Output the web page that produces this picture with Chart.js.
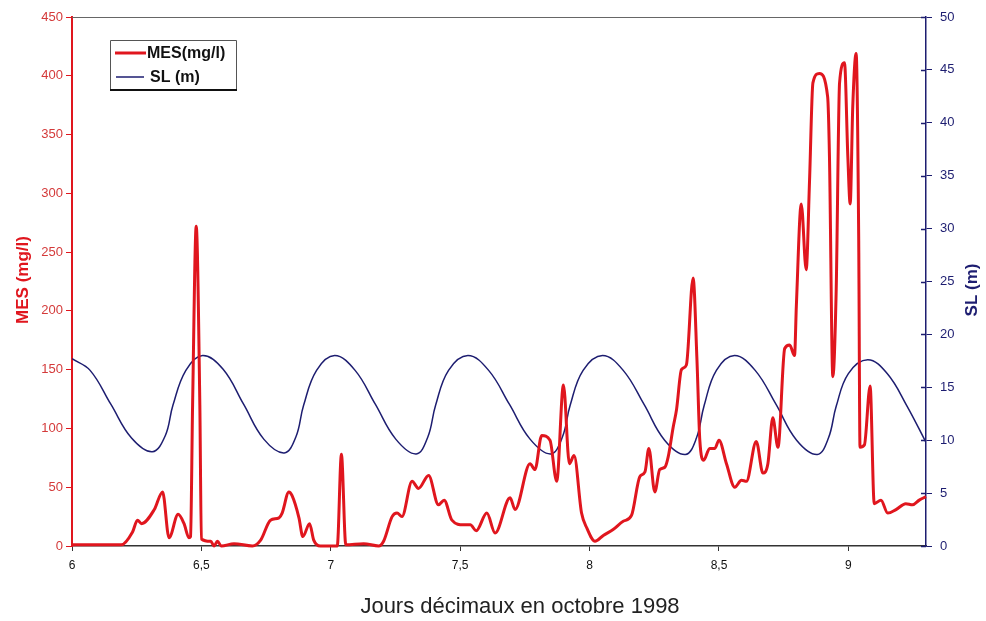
<!DOCTYPE html>
<html lang="fr">
<head>
    <meta charset="UTF-8">
    <title>MES et SL - octobre 1998</title>
    <script src="https://cdn.jsdelivr.net/npm/chart.js"></script>
    <style>
    body {
        margin: 0;
        padding: 0;
        background: #fff;
    }
    .wrap {
        width: 986px;
        height: 621px;
        position: relative;
    }
    </style>
</head>
<body>
    <div class="wrap">
        <canvas id="mes-chart"></canvas>
    </div>

    <script>
        // MES (mg/l), left axis
        const mesDays = [6.00, 6.10, 6.19, 6.234, 6.253, 6.269, 6.318, 6.35, 6.375, 6.41, 6.433, 6.452,
            6.458, 6.466, 6.48, 6.494, 6.50, 6.536, 6.549, 6.562, 6.577, 6.626, 6.697, 6.729, 6.767,
            6.80, 6.812, 6.838, 6.85, 6.877, 6.892, 6.918, 6.934, 6.96, 7.025, 7.041, 7.058, 7.127,
            7.185, 7.204, 7.237, 7.256, 7.275, 7.314, 7.339, 7.378, 7.416, 7.438, 7.468, 7.513, 7.539,
            7.562, 7.603, 7.635, 7.693, 7.712, 7.77, 7.789, 7.815, 7.847, 7.873, 7.899, 7.922, 7.94,
            7.969, 7.99, 8.021, 8.053, 8.091, 8.13, 8.162, 8.194, 8.214, 8.229, 8.252, 8.271, 8.291,
            8.304, 8.323, 8.336, 8.355, 8.374, 8.40, 8.415, 8.426, 8.441, 8.464, 8.484, 8.50, 8.529,
            8.561, 8.587, 8.606, 8.644, 8.67, 8.689, 8.708, 8.728, 8.754, 8.773, 8.792, 8.799, 8.818,
            8.837, 8.85, 8.863, 8.888, 8.92, 8.927, 8.94, 8.953, 8.966, 8.985, 8.998, 9.007, 9.017,
            9.03, 9.04, 9.045, 9.062, 9.084, 9.10, 9.126, 9.152, 9.184, 9.222, 9.248, 9.274, 9.30];
        const mesValues = [1, 1, 1, 12, 22, 19, 31, 46, 7, 27, 19, 7,
            8, 120, 272, 120, 6, 4, 0, 4, 0, 2, 0, 5, 22,
            24, 28, 46, 43, 24, 8, 19, 5, 0, 0, 78, 1, 2,
            0, 4, 25, 28, 25, 55, 49, 60, 35, 39, 22, 18, 18,
            13, 28, 11, 41, 31, 70, 65, 94, 90, 55, 137, 70, 77,
            28, 15, 4, 9, 14, 21, 26, 59, 63, 83, 46, 65, 67,
            76, 101, 116, 150, 154, 228, 158, 90, 73, 83, 83, 90, 70,
            50, 56, 55, 89, 62, 70, 109, 84, 168, 171, 162, 204, 291,
            235, 311, 394, 402, 382, 331, 144, 218, 394, 411, 331, 291, 374,
            419, 260, 84, 86, 136, 36, 39, 28, 31, 36, 35, 39, 42];

        // SL (m), right axis
        const slDays = [6.00, 6.07, 6.15, 6.23, 6.31, 6.36, 6.39, 6.44, 6.505,
            6.584, 6.663, 6.741, 6.82, 6.865, 6.895, 6.945, 7.015,
            7.094, 7.172, 7.251, 7.33, 7.375, 7.405, 7.455, 7.53,
            7.61, 7.69, 7.77, 7.85, 7.895, 7.925, 7.975, 8.05,
            8.13, 8.21, 8.29, 8.37, 8.413, 8.443, 8.49, 8.56,
            8.64, 8.72, 8.80, 8.88, 8.923, 8.953, 9.00, 9.075,
            9.15, 9.225, 9.30];
        const slValues = [17.7, 16.6, 13.4, 10.2, 8.9, 10.4, 13.3, 16.6, 18.0,
            16.7, 13.4, 10.1, 8.8, 10.3, 13.3, 16.6, 18.0,
            16.6, 13.4, 10.1, 8.7, 10.3, 13.3, 16.6, 18.0,
            16.6, 13.4, 10.1, 8.7, 10.3, 13.3, 16.6, 18.0,
            16.6, 13.4, 10.0, 8.65, 10.2, 13.3, 16.6, 18.0,
            16.6, 13.4, 10.0, 8.65, 10.2, 13.2, 16.3, 17.6,
            16.3, 13.3, 9.8];

        const mesTicks = [0, 50, 100, 150, 200, 250, 300, 350, 400, 450];
        const slTicks = [0, 5, 10, 15, 20, 25, 30, 35, 40, 45, 50];
        const dayTicks = [6, 6.5, 7, 7.5, 8, 8.5, 9];

        const RED = '#e0161e';
        const NAVY = '#1d1d70';
        const FONT = 'Arial, "Liberation Sans", sans-serif';

        // titles, legend box, top frame line, inner half of the SL ticks
        const decor = {
            id: 'decor',
            afterDraw(chart) {
                const c = chart.ctx;
                const area = chart.chartArea;
                c.save();

                c.strokeStyle = '#666';
                c.lineWidth = 1;
                c.beginPath();
                c.moveTo(area.left, area.top + 0.5);
                c.lineTo(area.right, area.top + 0.5);
                c.stroke();

                const y2 = chart.scales.y2;
                c.strokeStyle = NAVY;
                c.lineWidth = 1.5;
                c.beginPath();
                slTicks.forEach(v => {
                    const py = Math.round(y2.getPixelForValue(v)) + 0.5;
                    c.moveTo(area.right - 5, py);
                    c.lineTo(area.right, py);
                });
                c.stroke();

                // legend
                c.strokeStyle = '#555';
                c.lineWidth = 1;
                c.beginPath();
                c.moveTo(110.5, 90);
                c.lineTo(110.5, 40.5);
                c.lineTo(236.5, 40.5);
                c.lineTo(236.5, 90);
                c.stroke();
                c.strokeStyle = '#111';
                c.lineWidth = 2;
                c.beginPath();
                c.moveTo(110, 90);
                c.lineTo(237, 90);
                c.stroke();

                const ds = chart.data.datasets;
                c.lineWidth = 3;
                c.strokeStyle = ds[0].borderColor;
                c.beginPath();
                c.moveTo(115, 53);
                c.lineTo(146, 53);
                c.stroke();
                c.lineWidth = 1.5;
                c.strokeStyle = ds[1].borderColor;
                c.beginPath();
                c.moveTo(116, 77);
                c.lineTo(144, 77);
                c.stroke();

                c.fillStyle = '#111';
                c.font = 'bold 16px ' + FONT;
                c.textBaseline = 'middle';
                c.textAlign = 'left';
                c.fillText(ds[0].label, 147, 54);
                c.fillText(ds[1].label, 150, 78);

                // axis titles
                c.textAlign = 'center';
                c.font = 'bold 17px ' + FONT;
                c.fillStyle = RED;
                c.save();
                c.translate(23, 280);
                c.rotate(-Math.PI / 2);
                c.fillText('MES (mg/l)', 0, 0);
                c.restore();

                c.fillStyle = NAVY;
                c.save();
                c.translate(972, 290);
                c.rotate(-Math.PI / 2);
                c.fillText('SL (m)', 0, 0);
                c.restore();

                c.fillStyle = '#222';
                c.font = '22px ' + FONT;
                c.fillText('Jours décimaux en octobre 1998', 520, 607);
                c.restore();
            }
        };

        const ctx = document.getElementById('mes-chart').getContext('2d');
        const mesChart = new Chart(ctx, {
            type: 'line',
            data: {
                datasets: [{
                    label: 'MES(mg/l)',
                    data: mesDays.map((d, i) => ({ x: d, y: mesValues[i] })),
                    borderColor: RED,
                    borderWidth: 3,
                    pointRadius: 0,
                    cubicInterpolationMode: 'monotone',
                    yAxisID: 'y',
                    clip: 4
                }, {
                    label: 'SL (m)',
                    data: slDays.map((d, i) => ({ x: d, y: slValues[i] })),
                    borderColor: NAVY,
                    borderWidth: 1.5,
                    pointRadius: 0,
                    tension: 0.4,
                    yAxisID: 'y2'
                }]
            },
            options: {
                responsive: true,
                maintainAspectRatio: false,
                animation: false,
                layout: { padding: { top: 17, left: 0, right: 0, bottom: 0 } },
                plugins: {
                    legend: { display: false },
                    tooltip: { enabled: false }
                },
                scales: {
                    x: {
                        type: 'linear',
                        min: 6,
                        max: 9.3,
                        afterFit: s => { s.height = 75; },
                        afterBuildTicks: s => { s.ticks = dayTicks.map(v => ({ value: v })); },
                        ticks: {
                            color: '#111',
                            font: { family: FONT, size: 12 },
                            padding: 7,
                            maxRotation: 0,
                            callback: v => String(v).replace('.', ',')
                        },
                        grid: { drawOnChartArea: false, tickLength: 5, color: '#333' },
                        border: { color: '#333', width: 1.5 }
                    },
                    y: {
                        position: 'left',
                        min: 0,
                        max: 450,
                        afterFit: s => { s.width = 72; },
                        afterBuildTicks: s => { s.ticks = mesTicks.map(v => ({ value: v })); },
                        ticks: {
                            color: '#d43a3a',
                            font: { family: FONT, size: 13 },
                            padding: 3
                        },
                        grid: { drawOnChartArea: false, tickLength: 6, color: RED },
                        border: { color: RED, width: 2 }
                    },
                    y2: {
                        position: 'right',
                        min: 0,
                        max: 50,
                        afterFit: s => { s.width = 60; },
                        afterBuildTicks: s => { s.ticks = slTicks.map(v => ({ value: v })); },
                        ticks: {
                            color: NAVY,
                            font: { family: FONT, size: 13 },
                            padding: 8
                        },
                        grid: { drawOnChartArea: false, tickLength: 6, color: NAVY },
                        border: { color: NAVY, width: 1.5 }
                    }
                }
            },
            plugins: [decor]
        });
    </script>
</body>
</html>
